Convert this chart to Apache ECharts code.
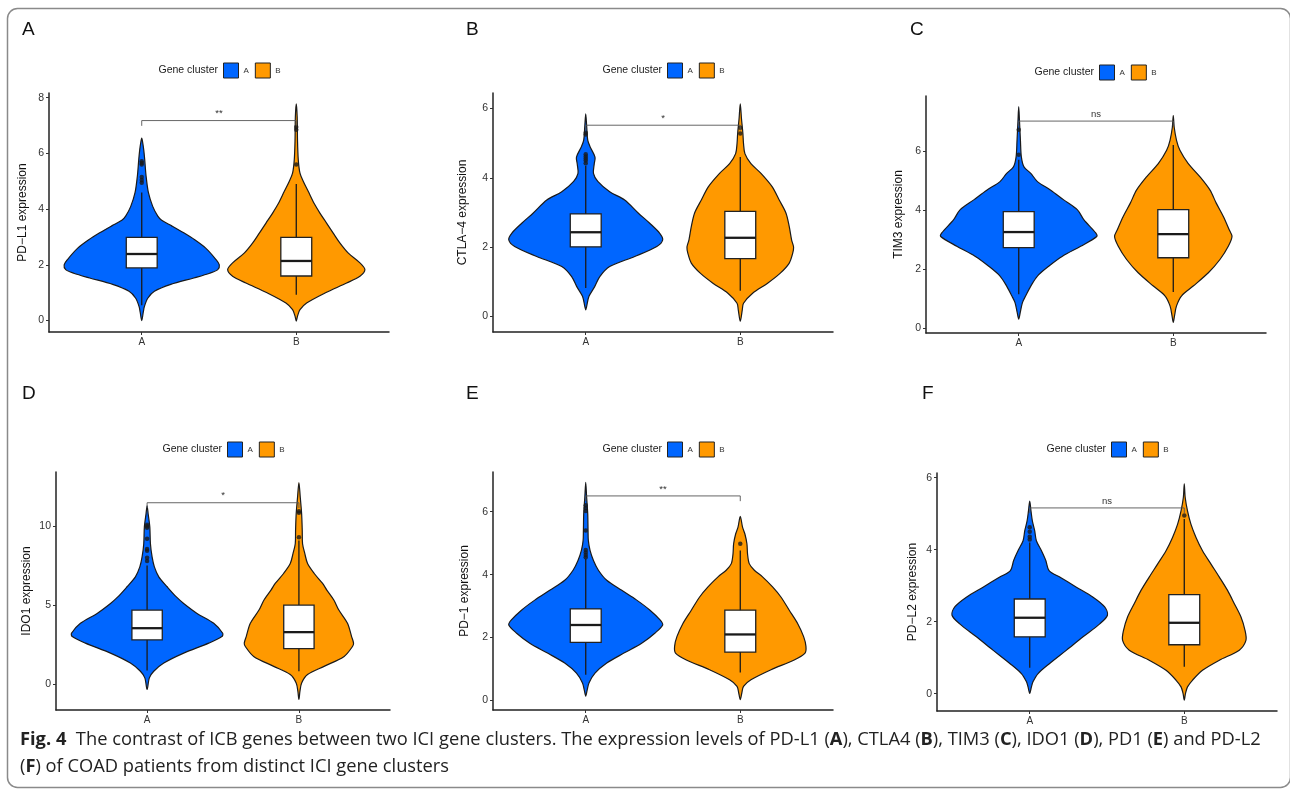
<!DOCTYPE html>
<html>
<head>
<meta charset="utf-8">
<script src="https://cdn.jsdelivr.net/npm/echarts@6/dist/echarts.min.js"></script>
<style>
  html, body { margin: 0; padding: 0; background: #ffffff; }
  #chart { width: 1290px; height: 790px; }
</style>
</head>
<body>
<div id="chart"></div>
<script>
// ---- data -------------------------------------------------------------
const groups = ['A', 'B'];
const panelLetters = ['A', 'B', 'C', 'D', 'E', 'F'];
const yTitles = ['PD\u2212L1 expression', 'CTLA\u22124 expression', 'TIM3 expression',
                 'IDO1 expression', 'PD\u22121 expression', 'PD\u2212L2 expression'];
const yTicks = [[0, 2, 4, 6, 8], [0, 2, 4, 6], [0, 2, 4, 6], [0, 5, 10], [0, 2, 4, 6], [0, 2, 4, 6]];
const yRanges = [[-0.41, 8.17], [-0.45, 6.45], [-0.17, 7.86], [-1.66, 13.44], [-0.3, 7.26], [-0.48, 6.13]];

// violin outlines per gene: [expression, half width in category units], bottom to top
const violinPDL1 = [
  [[0.0,0],[0.3,0.010],[0.5,0.017],[0.8,0.039],[1.05,0.082],[1.3,0.188],[1.53,0.337],[1.7,0.440],[1.83,0.492],[2.0,0.502],[2.2,0.479],[2.6,0.414],[2.9,0.343],[3.15,0.272],[3.4,0.194],[3.6,0.129],[3.75,0.104],[4.1,0.071],[4.6,0.043],[5.2,0.028],[5.8,0.019],[6.13,0.013],[6.4,0.006],[6.55,0]],
  [[-0.02,0],[0.16,0.008],[0.39,0.024],[0.63,0.067],[0.99,0.186],[1.35,0.326],[1.59,0.412],[1.83,0.444],[2.07,0.412],[2.42,0.337],[2.78,0.283],[3.14,0.239],[3.5,0.196],[3.86,0.153],[4.21,0.115],[4.63,0.078],[5.0,0.045],[5.29,0.024],[5.77,0.013],[6.48,0.008],[7.3,0.006],[7.78,0]]
];
const violinCTLA4 = [
  [[0.19,0],[0.29,0.006],[0.58,0.021],[0.86,0.058],[1.15,0.091],[1.44,0.155],[1.73,0.317],[2.02,0.460],[2.21,0.498],[2.4,0.479],[2.69,0.414],[2.98,0.341],[3.36,0.252],[3.6,0.155],[3.9,0.078],[4.13,0.050],[4.4,0.055],[4.6,0.060],[4.9,0.028],[5.09,0.013],[5.5,0.006],[5.85,0]],
  [[-0.14,0],[0.19,0.013],[0.38,0.021],[0.67,0.080],[0.96,0.177],[1.25,0.259],[1.54,0.317],[1.82,0.339],[2.0,0.345],[2.21,0.332],[2.59,0.317],[2.98,0.296],[3.36,0.252],[3.74,0.207],[4.13,0.134],[4.41,0.069],[4.7,0.030],[4.99,0.021],[5.28,0.017],[5.7,0.008],[6.14,0]]
];
const violinTIM3 = [
  [[0.3,0],[0.53,0.010],[0.86,0.024],[1.09,0.045],[1.42,0.078],[1.76,0.121],[2.1,0.196],[2.43,0.283],[2.77,0.401],[3.1,0.505],[3.22,0.498],[3.67,0.421],[4.0,0.380],[4.34,0.291],[4.67,0.207],[4.96,0.121],[5.24,0.078],[5.46,0.034],[5.8,0.017],[6.36,0.011],[7.0,0.005],[7.5,0]],
  [[0.19,0],[0.41,0.008],[0.75,0.021],[1.09,0.054],[1.42,0.129],[1.87,0.227],[2.32,0.302],[2.77,0.356],[3.1,0.380],[3.33,0.362],[3.78,0.324],[4.23,0.278],[4.67,0.238],[5.12,0.173],[5.57,0.097],[6.02,0.043],[6.36,0.021],[6.8,0.006],[7.2,0]]
];
const violinIDO1 = [
  [[-0.36,0],[0.38,0.015],[0.8,0.044],[1.32,0.110],[1.95,0.241],[2.58,0.406],[3.0,0.493],[3.21,0.498],[3.84,0.439],[4.47,0.329],[5.1,0.241],[5.53,0.191],[6.16,0.132],[6.79,0.077],[7.42,0.048],[8.05,0.033],[8.89,0.022],[9.94,0.018],[10.78,0.007],[11.3,0]],
  [[-0.99,0],[-0.46,0.007],[0.06,0.018],[0.59,0.057],[1.11,0.166],[1.74,0.298],[2.37,0.353],[2.58,0.360],[3.0,0.347],[3.84,0.320],[4.68,0.263],[5.32,0.230],[5.95,0.184],[6.37,0.156],[7.0,0.101],[7.63,0.057],[8.26,0.039],[8.89,0.024],[9.73,0.022],[10.78,0.018],[11.83,0.009],[12.77,0]]
];
const violinPD1 = [
  [[0.14,0],[0.35,0.010],[0.56,0.021],[0.87,0.060],[1.19,0.136],[1.5,0.244],[1.82,0.362],[2.14,0.447],[2.4,0.498],[2.56,0.481],[2.87,0.416],[3.19,0.330],[3.5,0.233],[3.82,0.136],[4.14,0.082],[4.45,0.050],[4.77,0.028],[5.08,0.017],[5.4,0.015],[5.93,0.013],[6.45,0.006],[6.93,0]],
  [[0.03,0],[0.24,0.010],[0.45,0.021],[0.66,0.069],[0.98,0.199],[1.29,0.349],[1.51,0.419],[1.72,0.425],[2.03,0.410],[2.45,0.371],[2.87,0.317],[3.29,0.263],[3.61,0.209],[3.93,0.144],[4.14,0.091],[4.35,0.058],[4.66,0.047],[4.98,0.043],[5.29,0.030],[5.5,0.015],[5.85,0]]
];
const violinPDL2 = [
  [[0.01,0],[0.19,0.011],[0.33,0.021],[0.56,0.054],[0.84,0.129],[1.21,0.238],[1.58,0.345],[1.94,0.453],[2.18,0.503],[2.41,0.485],[2.68,0.410],[2.96,0.302],[3.24,0.194],[3.42,0.125],[3.7,0.104],[3.97,0.076],[4.25,0.043],[4.53,0.032],[4.8,0.017],[5.08,0.008],[5.35,0]],
  [[-0.18,0],[0.01,0.008],[0.19,0.021],[0.38,0.054],[0.65,0.118],[0.93,0.227],[1.21,0.356],[1.48,0.399],[1.76,0.393],[2.13,0.367],[2.5,0.324],[2.87,0.280],[3.24,0.227],[3.6,0.173],[3.97,0.118],[4.34,0.076],[4.71,0.043],[5.08,0.021],[5.45,0.006],[5.83,0]]
];

// box statistics per gene: [lower whisker, Q1, median, Q3, upper whisker] for clusters A and B
const boxPDL1  = [[0.55, 1.89, 2.39, 2.99, 4.6],  [0.93, 1.6, 2.14, 2.99, 4.9]];
const boxCTLA4 = [[0.82, 2.01, 2.43, 2.96, 4.35], [0.74, 1.67, 2.27, 3.03, 4.6]];
const boxTIM3  = [[1.14, 2.72, 3.25, 3.94, 5.7],  [1.22, 2.38, 3.18, 4.01, 6.2]];
const boxIDO1  = [[0.85, 2.79, 3.53, 4.68, 7.5],  [0.8, 2.23, 3.28, 5.0, 9.1]];
const boxPD1   = [[0.82, 1.85, 2.4, 2.91, 4.5],   [0.89, 1.54, 2.1, 2.87, 4.77]];
const boxPDL2  = [[0.72, 1.58, 2.11, 2.63, 4.2],  [0.75, 1.36, 1.97, 2.75, 4.85]];

// outlying samples per gene, clusters A and B
const outPDL1  = [[4.95, 5.05, 5.15, 5.6, 5.66, 5.72], [5.6, 6.85, 6.95]];
const outCTLA4 = [[4.42, 4.5, 4.56, 4.62, 4.68, 5.25, 5.3], [5.28, 5.45]];
const outTIM3  = [[5.87, 6.72], []];
const outIDO1  = [[7.8, 8.0, 8.45, 8.55, 9.2, 9.9, 10.0, 10.1], [9.3, 10.85, 10.95]];
const outPD1   = [[4.55, 4.62, 4.7, 4.78, 5.4, 6.02, 6.12, 6.2], [4.98]];
const outPDL2  = [[4.28, 4.36, 4.5, 4.62], [4.95]];

// comparison between clusters: label and bracket height
const sigLabels  = ['**', '*', 'ns', '*', '**', 'ns'];
const sigHeights = [7.18, 5.52, 7.01, 11.49, 6.5, 5.16];

const captionLine1 = '{b|Fig. 4}  The contrast of ICB genes between two ICI gene clusters. The expression levels of PD-L1 ({b|A}), CTLA4 ({b|B}), TIM3 ({b|C}), IDO1 ({b|D}), PD1 ({b|E}) and PD-L2';
const captionLine2 = '({b|F}) of COAD patients from distinct ICI gene clusters';

// ---- layout & style ---------------------------------------------------
const violins  = [violinPDL1, violinCTLA4, violinTIM3, violinIDO1, violinPD1, violinPDL2];
const boxes    = [boxPDL1, boxCTLA4, boxTIM3, boxIDO1, boxPD1, boxPDL2];
const outliers = [outPDL1, outCTLA4, outTIM3, outIDO1, outPD1, outPDL2];

const grids = [
  { left: 49,  top: 93,  width: 340, height: 239 },
  { left: 493, top: 93,  width: 340, height: 239 },
  { left: 926, top: 96,  width: 340, height: 237 },
  { left: 56,  top: 472, width: 334, height: 238 },
  { left: 493, top: 472, width: 340, height: 238 },
  { left: 937, top: 473, width: 340, height: 238 }
];
const nameGaps = [20, 24, 21, 23, 22, 18];
const letterPos = [[22, 30], [466, 30], [910, 30], [22, 394], [466, 394], [922, 394]];
const legendPos = [[223, 70], [667, 70], [1099, 72], [227, 449], [667, 449], [1111, 449]];

const colors = { A: '#0066ff', B: '#ff9900' };
const ink = '#1a1a1a';
const sans = "'Liberation Sans', Arial, sans-serif";

function violinRenderer(profile, center) {
  return function (params, api) {
    if (params.dataIndex !== 0) return null;
    const right = profile.map(p => api.coord([center + p[1], p[0]]));
    const left = profile.slice(1, -1).reverse().map(p => api.coord([center - p[1], p[0]]));
    return {
      type: 'polygon',
      shape: { points: right.concat(left), smooth: 0.3 },
      style: { fill: api.visual('color'), stroke: ink, lineWidth: 1.2 }
    };
  };
}

function boxRenderer(params, api) {
  const x = api.value(0);
  const half = 0.1;
  const lo = api.coord([x, api.value(1)]);
  const hi = api.coord([x, api.value(5)]);
  const tl = api.coord([x - half, api.value(4)]);
  const br = api.coord([x + half, api.value(2)]);
  const m1 = api.coord([x - half, api.value(3)]);
  const m2 = api.coord([x + half, api.value(3)]);
  return {
    type: 'group',
    children: [
      { type: 'line', shape: { x1: lo[0], y1: lo[1], x2: hi[0], y2: hi[1] }, style: { stroke: ink, lineWidth: 1.3 } },
      { type: 'rect', shape: { x: tl[0], y: tl[1], width: br[0] - tl[0], height: br[1] - tl[1] },
        style: { fill: '#ffffff', stroke: '#222', lineWidth: 1.3 } },
      { type: 'line', shape: { x1: m1[0], y1: m1[1], x2: m2[0], y2: m2[1] }, style: { stroke: ink, lineWidth: 2.3 } }
    ]
  };
}

function bracketRenderer(label, tip) {
  return function (params, api) {
    const y = api.value(2);
    const p1 = api.coord([api.value(0), y - tip]);
    const p2 = api.coord([api.value(0), y]);
    const p3 = api.coord([api.value(1), y]);
    const p4 = api.coord([api.value(1), y - tip]);
    return {
      type: 'group',
      children: [
        { type: 'polyline', shape: { points: [p1, p2, p3, p4] }, style: { stroke: '#555', lineWidth: 0.9, fill: null } },
        { type: 'text', x: (p2[0] + p3[0]) / 2, y: p2[1] - 2,
          style: { text: label, align: 'center', verticalAlign: 'bottom', fontSize: 9.5, fontFamily: sans, fill: '#333' } }
      ]
    };
  };
}

const xAxis = [], yAxis = [], grid = [], series = [], legend = [], graphic = [];

graphic.push({
  type: 'rect', left: 5, top: 6, z: 0,
  shape: { width: 1283, height: 779, r: 10 },
  style: { fill: null, stroke: '#8a8a8a', lineWidth: 1.5 }
});

panelLetters.forEach((letter, i) => {
  grid.push(grids[i]);
  xAxis.push({
    type: 'value', gridIndex: i, min: 0.4, max: 2.6,
    splitLine: { show: false },
    axisLine: { show: true, onZero: false, lineStyle: { color: '#222', width: 1.5 } },
    axisTick: { show: true, length: 3, customValues: [1, 2], lineStyle: { color: '#333' } },
    axisLabel: { customValues: [1, 2], margin: 5, fontSize: 10, fontFamily: sans, color: '#333',
                 formatter: v => groups[Math.round(v) - 1] }
  });
  yAxis.push({
    type: 'value', gridIndex: i, min: yRanges[i][0], max: yRanges[i][1],
    splitLine: { show: false },
    axisLine: { show: true, onZero: false, lineStyle: { color: '#222', width: 1.5 } },
    axisTick: { show: true, length: 3, customValues: yTicks[i], lineStyle: { color: '#333' } },
    axisLabel: { customValues: yTicks[i], margin: 5, fontSize: 10.5, fontFamily: sans, color: '#333' },
    name: yTitles[i], nameLocation: 'middle', nameGap: nameGaps[i],
    nameTextStyle: { fontSize: 12, fontFamily: sans, color: '#111' }
  });

  groups.forEach((g, gi) => {
    series.push({
      type: 'custom', name: g, xAxisIndex: i, yAxisIndex: i, z: 2,
      itemStyle: { color: colors[g], borderColor: ink, borderWidth: 1 },
      renderItem: violinRenderer(violins[i][gi], gi + 1),
      data: [[gi + 1, boxes[i][gi][2]]],
      silent: true
    });
  });

  series.push({
    type: 'custom', name: 'box', xAxisIndex: i, yAxisIndex: i, z: 3,
    renderItem: boxRenderer,
    data: boxes[i].map((b, gi) => [gi + 1].concat(b)),
    silent: true
  });

  series.push({
    type: 'scatter', name: 'outlier', xAxisIndex: i, yAxisIndex: i, z: 4,
    symbolSize: 4.5, itemStyle: { color: ink },
    data: outliers[i].flatMap((vals, gi) => vals.map(v => [gi + 1, v])),
    silent: true
  });

  const span = yRanges[i][1] - yRanges[i][0];
  series.push({
    type: 'custom', name: 'comparison', xAxisIndex: i, yAxisIndex: i, z: 5,
    renderItem: bracketRenderer(sigLabels[i], span * 0.022),
    data: [[1, 2, sigHeights[i]]],
    silent: true
  });

  legend.push({
    data: groups, left: legendPos[i][0], top: legendPos[i][1] - 7.5,
    orient: 'horizontal', icon: 'rect', itemWidth: 15, itemHeight: 15, itemGap: 6, padding: 0,
    selectedMode: false,
    itemStyle: { borderColor: '#222', borderWidth: 1 },
    textStyle: { fontSize: 8, fontFamily: sans, color: '#333' }
  });

  graphic.push({
    type: 'text', x: legendPos[i][0] - 5, y: legendPos[i][1],
    style: { text: 'Gene cluster', align: 'right', verticalAlign: 'middle', fontSize: 10.5, fontFamily: sans, fill: '#1a1a1a' }
  });
  graphic.push({
    type: 'text', x: letterPos[i][0], y: letterPos[i][1],
    style: { text: letter, align: 'left', verticalAlign: 'middle', fontSize: 19, fontFamily: sans, fill: '#111' }
  });
});

const captionFont = { fontSize: 18.3, fontFamily: "'Open Sans', 'Noto Sans', sans-serif", fill: '#222' };
const captionRich = { b: Object.assign({}, captionFont, { fontWeight: 'bold' }) };
graphic.push({
  type: 'text', x: 20, y: 740,
  style: Object.assign({ text: captionLine1, rich: captionRich, verticalAlign: 'middle' }, captionFont)
});
graphic.push({
  type: 'text', x: 20, y: 767,
  style: Object.assign({ text: captionLine2, rich: captionRich, verticalAlign: 'middle' }, captionFont)
});

const chart = echarts.init(document.getElementById('chart'), null, { renderer: 'canvas' });
chart.setOption({
  animation: false,
  backgroundColor: '#ffffff',
  grid, xAxis, yAxis, legend, series, graphic
});
</script>
</body>
</html>
